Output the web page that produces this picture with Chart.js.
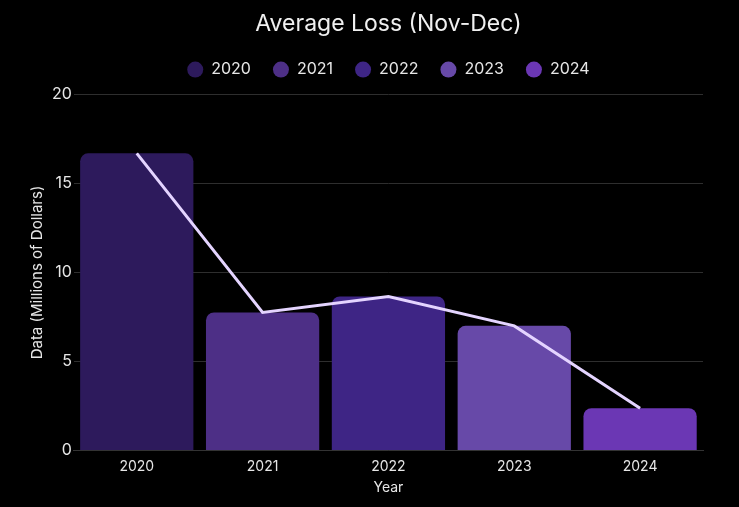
<!DOCTYPE html>
<html>
<head>
<meta charset="utf-8">
<script src="https://cdn.jsdelivr.net/npm/chart.js@4"></script>
<style>
  html, body { margin: 0; padding: 0; background: #000; }
  #wrap { width: 739px; height: 507px; }
</style>
</head>
<body>
<div id="wrap"><canvas id="lossChart"></canvas></div>
<script>
const years = ['2020', '2021', '2022', '2023', '2024']
const avg_loss = [16.7, 7.75, 8.65, 7.0, 2.37]
const bar_colors = ['#2d1a5c', '#4d2f86', '#3e2585', '#6749a8', '#6b37b4']

Chart.defaults.font.family = 'Inter, "Noto Sans", sans-serif'
Chart.defaults.color = '#e6e6e6'

// small plugin to leave some room under the legend
const legendMargin = {
    id: 'legendMargin',
    beforeInit(chart) {
        const fit = chart.legend.fit
        chart.legend.fit = function () {
            fit.bind(chart.legend)()
            this.height += 7
        }
    }
}

const ctx = document.getElementById('lossChart').getContext('2d')
const lossChart = new Chart(ctx, {
    type: 'bar',
    data: {
        labels: years,
        datasets: [
            {
                type: 'line',
                label: 'Trend',
                data: avg_loss,
                borderColor: '#e4d4ff',
                borderWidth: 3,
                pointRadius: 0,
                tension: 0
            },
            {
                label: 'Average Loss',
                data: avg_loss,
                backgroundColor: bar_colors,
                borderRadius: { topLeft: 8, topRight: 8 },
                borderSkipped: 'bottom',
                barPercentage: 0.9,
                categoryPercentage: 1.0
            }
        ]
    },
    plugins: [legendMargin],
    options: {
        responsive: true,
        maintainAspectRatio: false,
        animation: false,
        layout: { padding: { left: 24, right: 36, top: 5, bottom: 7 } },
        plugins: {
            title: {
                display: true,
                fullSize: false,
                text: 'Average Loss (Nov-Dec)',
                color: '#f0f0f0',
                font: { size: 23, weight: 'normal' },
                padding: { top: 5, bottom: 2 }
            },
            legend: {
                fullSize: false,
                labels: {
                    usePointStyle: true,
                    pointStyle: 'circle',
                    pointStyleWidth: 16,
                    boxHeight: 11.3,
                    padding: 22,
                    font: { size: 16 },
                    color: '#e6e6e6',
                    generateLabels: chart => years.map((y, i) => ({
                        text: y,
                        fillStyle: bar_colors[i],
                        strokeStyle: bar_colors[i],
                        lineWidth: 0,
                        pointStyle: 'circle',
                        fontColor: '#e6e6e6',
                        hidden: false,
                        index: i
                    }))
                },
                onClick: () => {}
            },
            tooltip: { enabled: false }
        },
        scales: {
            x: {
                grid: { display: false },
                border: { color: '#333' },
                ticks: { font: { size: 14 }, color: '#e6e6e6', padding: 0 },
                title: { display: true, text: 'Year', font: { size: 14 }, color: '#e6e6e6', padding: { top: 4 } }
            },
            y: {
                min: 0,
                max: 20,
                ticks: { stepSize: 5, font: { size: 16 }, color: '#e6e6e6', padding: 2 },
                grid: { color: '#2e2e2e', lineWidth: 1, drawTicks: false },
                border: { display: false },
                title: { display: true, text: 'Data (Millions of Dollars)', font: { size: 15 }, color: '#e6e6e6', padding: 4 }
            }
        }
    }
})
</script>
</body>
</html>
